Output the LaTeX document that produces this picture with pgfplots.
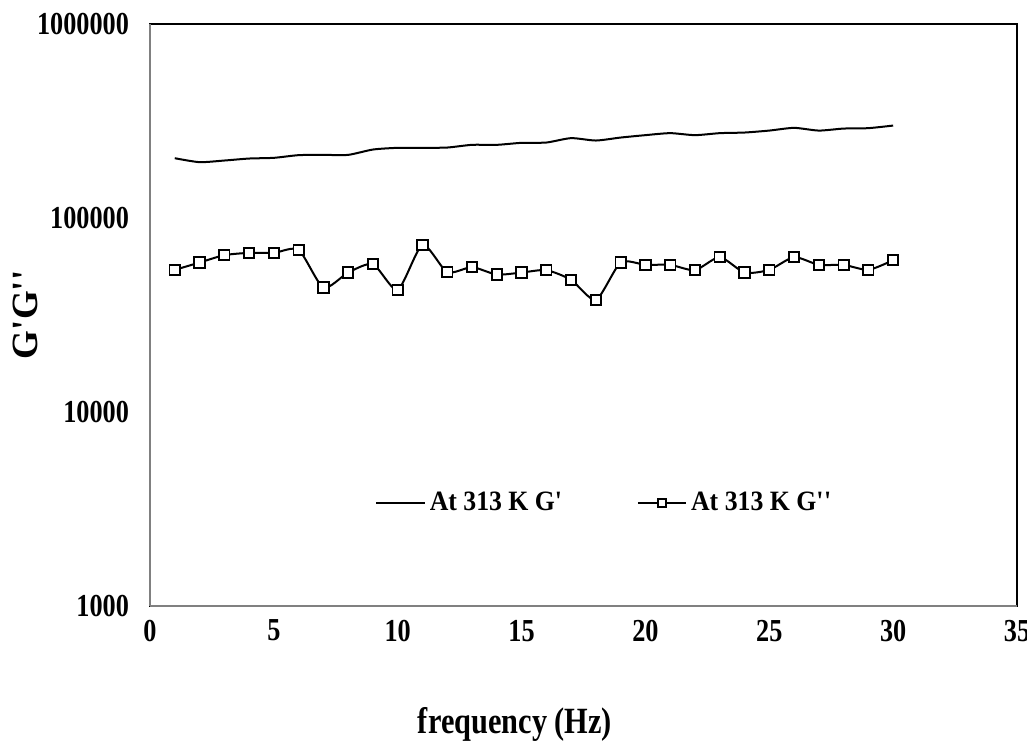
\documentclass[border=0pt]{standalone}
\usepackage{fontspec}
\setmainfont{Liberation Serif}[FakeStretch=0.82]
\newfontfamily\widefont{Liberation Serif}[FakeStretch=0.92]
\newfontfamily\plainfont{Liberation Serif}
\usepackage{pgfplots}
\pgfplotsset{compat=1.18}

\pgfplotstableread{
f Gp Gpp
1 203000 53950
2 193700 58840
3 197500 64230
4 202200 66010
5 203900 66010
6 210500 68410
7 211200 43720
8 211200 52240
9 225000 57720
10 229600 42550
11 229600 72570
12 230400 52490
13 237900 55700
14 237900 51020
15 243600 52240
16 244500 53760
17 257600 47900
18 250400 37780
19 259400 58840
20 266900 57240
21 273300 57240
22 266900 53760
23 273300 62730
24 275300 52240
25 281800 53950
26 291000 62730
27 281800 57240
28 288600 57240
29 290000 53950
30 299100 60530
}\datatable

\begin{document}
\begin{tikzpicture}
\begin{axis}[
  scale only axis,
  width=433.5pt, height=291pt,
  ymode=log,
  xmin=0, xmax=35, ymin=1000, ymax=1000000,
  xtick={0,5,...,35},
  ytick={1000,10000,100000,1000000},
  yticklabels={1000,10000,100000,1000000},
  minor ytick={},
  tick style={draw=none},
  axis line style={black, line width=0.8pt},
  tick label style={font=\bfseries\fontsize{16}{18}\selectfont},
  /pgf/number format/assume math mode=true,
  xticklabel style={yshift=-3.5pt},
  yticklabel style={xshift=-7pt},
  xlabel={\bfseries frequency (Hz)},
  ylabel={\plainfont\bfseries G\textquotesingle G\textquotesingle\textquotesingle},
  label style={font=\bfseries\fontsize{18.5}{20}\selectfont},
  xlabel style={at={(axis description cs:0.421,-0.2045)}, anchor=center},
  ylabel style={at={(axis description cs:-0.144,0.5)}, anchor=center},
  legend columns=2,
  legend style={draw=none, fill=none, inner sep=0pt,
    font=\widefont\bfseries\fontsize{14}{16}\selectfont,
    at={(axis description cs:0.2595,0.177)}, anchor=west,
    /tikz/every even column/.append style={column sep=35pt}},
  legend image code/.code={
    \draw[#1] (0cm,0cm) -- (0.85cm,0cm);
    \draw[#1, only marks, mark size=1.9pt] plot coordinates {(0.425cm,0cm)};
  },
  clip=false,
]
\addplot[black, line width=1pt, smooth, tension=0.4] table[x=f, y=Gp] {\datatable};
\addlegendentry{At 313 K G\textquotesingle}
\addplot[black, line width=1pt, smooth, tension=0.4, mark=square*, mark size=2.6pt,
  mark options={fill=white, line width=0.9pt}] table[x=f, y=Gpp] {\datatable};
\addlegendentry{At 313 K G\textquotesingle\textquotesingle}
\draw[gray, line width=1pt] (rel axis cs:0,0) -- (rel axis cs:0,1);
\draw[gray, line width=1pt] (rel axis cs:0,0) -- (rel axis cs:1,0);
\coordinate (bbl) at (rel axis cs:-0.173,-0.2337);
\coordinate (btr) at (rel axis cs:1.0115,1.041);
\end{axis}
\pgfresetboundingbox
\path[use as bounding box] (bbl) rectangle (btr);
\end{tikzpicture}
\end{document}
